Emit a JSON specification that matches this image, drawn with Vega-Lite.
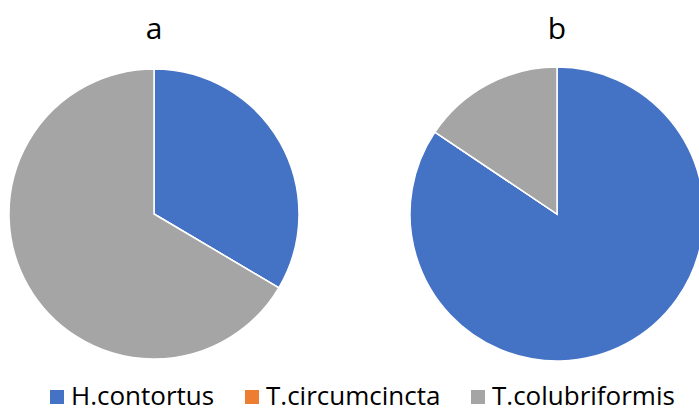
{
  "$schema": "https://vega.github.io/schema/vega-lite/v6.json",
  "padding": {"left": 4, "top": 15, "right": 0, "bottom": 30},
  "background": "white",
  "datasets": {
    "a": [
      {"species": "H.contortus", "value": 33.5, "idx": 1},
      {"species": "T.circumcincta", "value": 0, "idx": 2},
      {"species": "T.colubriformis", "value": 66.5, "idx": 3}
    ],
    "b": [
      {"species": "H.contortus", "value": 84.4, "idx": 1},
      {"species": "T.circumcincta", "value": 0, "idx": 2},
      {"species": "T.colubriformis", "value": 15.6, "idx": 3}
    ]
  },
  "spacing": 103,
  "hconcat": [
    {
      "title": {"text": "a", "fontSize": 30, "font": "Open Sans", "fontWeight": "normal", "color": "#000000", "offset": 19},
      "data": {"name": "a"},
      "width": 300,
      "height": 300,
      "mark": {"type": "arc", "radius": 145, "stroke": "white", "strokeWidth": 1.5},
      "encoding": {
        "theta": {"field": "value", "type": "quantitative", "stack": true},
        "order": {"field": "idx", "type": "quantitative"},
        "color": {
          "field": "species",
          "type": "nominal",
          "scale": {"domain": ["H.contortus", "T.circumcincta", "T.colubriformis"], "range": ["#4472C4", "#ED7D31", "#A5A5A5"]},
          "legend": {
            "title": null,
            "orient": "none",
            "direction": "horizontal",
            "legendX": 40,
            "legendY": 320,
            "symbolType": "square",
            "symbolSize": 196,
            "symbolStrokeWidth": 0,
            "labelFont": "Open Sans",
            "labelFontSize": 26,
            "labelColor": "#000000",
            "columnPadding": 24,
            "labelOffset": 1,
            "labelLimit": 300
          }
        }
      }
    },
    {
      "title": {"text": "b", "fontSize": 30, "font": "Open Sans", "fontWeight": "normal", "color": "#000000", "offset": 19},
      "data": {"name": "b"},
      "width": 300,
      "height": 300,
      "mark": {"type": "arc", "radius": 147, "stroke": "white", "strokeWidth": 1.5},
      "encoding": {
        "theta": {"field": "value", "type": "quantitative", "stack": true},
        "order": {"field": "idx", "type": "quantitative"},
        "color": {
          "field": "species",
          "type": "nominal",
          "scale": {"domain": ["H.contortus", "T.circumcincta", "T.colubriformis"], "range": ["#4472C4", "#ED7D31", "#A5A5A5"]},
          "legend": null
        }
      }
    }
  ],
  "config": {"view": {"stroke": null}}
}
